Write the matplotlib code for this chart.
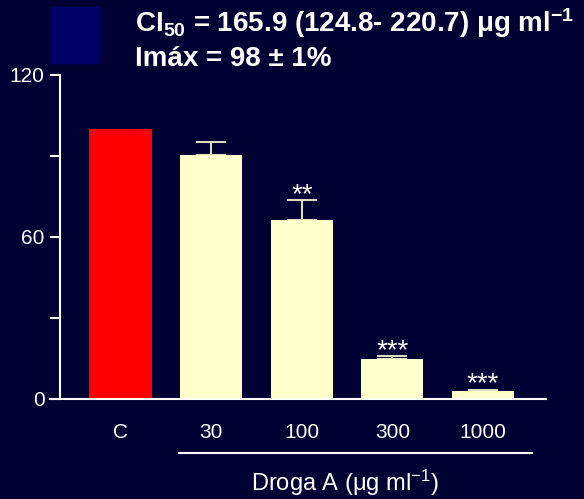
import matplotlib
matplotlib.use("Agg")
import matplotlib.pyplot as plt
from matplotlib.patches import Rectangle
from matplotlib.lines import Line2D
import numpy as np

plt.rcParams['font.family'] = ['Liberation Sans', 'DejaVu Sans']

categories = ['C', '30', '100', '300', '1000']
values = [100, 90.4, 66.3, 14.9, 3.0]
errors = [0, 4.9, 7.4, 1.1, 0.5]
stars = ['', '', '**', '***', '***']
colors = ['#ff0000', '#ffffcc', '#ffffcc', '#ffffcc', '#ffffcc']

bg = '#000033'
W, H = 584, 499
fig = plt.figure(figsize=(W/100, H/100), dpi=100, facecolor=bg)
ax = fig.add_axes([60/W, 1-399/H, (546-60)/W, (399-75)/H], facecolor=bg)

x = np.arange(len(categories))
ax.bar(x, values, width=0.685, color=colors, edgecolor='none', zorder=3)
ax.errorbar(x[1:], values[1:], yerr=[np.zeros(len(x)-1), errors[1:]],
            fmt='none', ecolor='#dcdcc0', elinewidth=1.5, capsize=11,
            capthick=1.5, zorder=2)

for xi, v, e, s in zip(x, values, errors, stars):
    if s:
        ax.annotate(s, xy=(xi, v+e), xytext=(0, -1.5), textcoords='offset points',
                    ha='center', va='baseline', color='white', fontsize=20,
                    zorder=4)

ax.set_xlim(-0.668, 4.695)
ax.set_ylim(0, 120)
ax.set_yticks([0, 60, 120])
ax.set_yticks([30, 90], minor=True)
ax.set_xticks(x, categories)

for sp in ['top', 'right', 'bottom']:
    ax.spines[sp].set_visible(False)
ax.spines['left'].set_color('white')
ax.spines['left'].set_linewidth(1.5)
ax.axhline(0, xmin=-10/486, xmax=1, color='white', lw=1.5, clip_on=False, zorder=5)

ax.tick_params(axis='y', which='both', colors='white', length=7.2, width=1.5,
               labelsize=15, pad=4)
ax.tick_params(axis='x', length=0, colors='white', labelsize=15, pad=17)

# grupo droga A
fig.add_artist(Line2D([179/W, 532/W], [1-453/H, 1-453/H], color='white', lw=1.5))
fig.text(345/W, 1-491/H, 'Droga A (μg ml$\\mathregular{^{-1}}$)', color='white',
         fontsize=17, ha='center', va='baseline')

# legenda / texto
fig.add_artist(Rectangle((50/W, 1-63/H), 49/W, 56/H, color='#000066',
                         transform=fig.transFigure))
fig.text(135/W, 1-32/H, 'CI$\\mathregular{_{50}}$ = 165.9 (124.8- 220.7) μg ml$\\mathregular{^{-1}}$',
         color='white', fontsize=20, fontweight='bold', va='baseline')
fig.text(135/W, 1-66/H, 'Imáx = 98 ± 1%', color='white', fontsize=20,
         fontweight='bold', va='baseline')

fig.savefig('out.png', dpi=100, facecolor=bg)
